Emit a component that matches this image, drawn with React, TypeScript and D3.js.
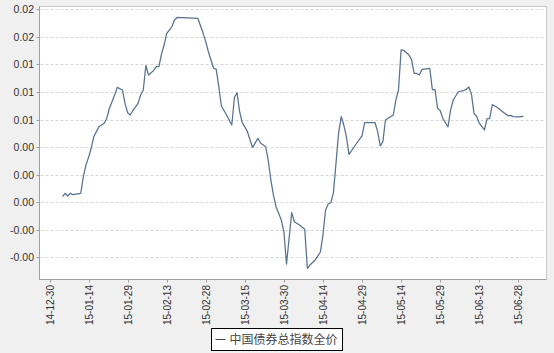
import { useEffect, useRef } from 'react';
import * as d3 from 'd3';

// 中国债券总指数全价 — readings from the chart, trading days (weekends/holidays ffilled in places)
const DATES = [
  '2015-01-04', '2015-01-05', '2015-01-06', '2015-01-07', '2015-01-08', '2015-01-09', '2015-01-11',
  '2015-01-12', '2015-01-13', '2015-01-14', '2015-01-15', '2015-01-16', '2015-01-17', '2015-01-18',
  '2015-01-20', '2015-01-21', '2015-01-22', '2015-01-23', '2015-01-24', '2015-01-25', '2015-01-27',
  '2015-01-28', '2015-01-29', '2015-01-30', '2015-01-31', '2015-02-02', '2015-02-03', '2015-02-04',
  '2015-02-05', '2015-02-06', '2015-02-08', '2015-02-09', '2015-02-10', '2015-02-11', '2015-02-12',
  '2015-02-13', '2015-02-14', '2015-02-15', '2015-02-16', '2015-02-17', '2015-02-25', '2015-02-26',
  '2015-02-27', '2015-02-28', '2015-03-01', '2015-03-02', '2015-03-03', '2015-03-04', '2015-03-05',
  '2015-03-06', '2015-03-08', '2015-03-10', '2015-03-11', '2015-03-12', '2015-03-13', '2015-03-14',
  '2015-03-16', '2015-03-17', '2015-03-18', '2015-03-20', '2015-03-21', '2015-03-23', '2015-03-24',
  '2015-03-25', '2015-03-26', '2015-03-27', '2015-03-29', '2015-03-30', '2015-03-31', '2015-04-02',
  '2015-04-03', '2015-04-05', '2015-04-07', '2015-04-08', '2015-04-09', '2015-04-11', '2015-04-13',
  '2015-04-14', '2015-04-15', '2015-04-16', '2015-04-17', '2015-04-18', '2015-04-19', '2015-04-20',
  '2015-04-21', '2015-04-22', '2015-04-23', '2015-04-24', '2015-04-26', '2015-04-28', '2015-04-29',
  '2015-04-30', '2015-05-04', '2015-05-05', '2015-05-06', '2015-05-07', '2015-05-08', '2015-05-09',
  '2015-05-11', '2015-05-12', '2015-05-13', '2015-05-14', '2015-05-15', '2015-05-17', '2015-05-18',
  '2015-05-19', '2015-05-20', '2015-05-21', '2015-05-22', '2015-05-23', '2015-05-25', '2015-05-26',
  '2015-05-27', '2015-05-28', '2015-05-29', '2015-05-30', '2015-06-01', '2015-06-02', '2015-06-03',
  '2015-06-05', '2015-06-07', '2015-06-08', '2015-06-09', '2015-06-10', '2015-06-11', '2015-06-12',
  '2015-06-13', '2015-06-15', '2015-06-16', '2015-06-17', '2015-06-18', '2015-06-20', '2015-06-22',
  '2015-06-24', '2015-06-25', '2015-06-26', '2015-06-28', '2015-06-30',
];

const VALUES = [
  0.0005, 0.00081, 0.00056, 0.00081, 0.00068, 0.00074, 0.00081,
  0.00231, 0.00337, 0.00407, 0.00489, 0.00594, 0.0064, 0.00685,
  0.00716, 0.00761, 0.00852, 0.00912, 0.00972, 0.01042, 0.01018,
  0.00897, 0.00812, 0.00791, 0.0083, 0.00897, 0.00972, 0.01018,
  0.0124, 0.01154, 0.01195, 0.01229, 0.01229, 0.01344, 0.01426,
  0.01532, 0.01562, 0.01592, 0.01653, 0.01676, 0.01667, 0.01598,
  0.01532, 0.01456, 0.01365, 0.0129, 0.01215, 0.01208, 0.01048,
  0.00873, 0.00791, 0.007, 0.0095, 0.00993, 0.00821, 0.00723,
  0.0064, 0.00564, 0.00496, 0.0058, 0.00537, 0.00503, 0.00378,
  0.00201, 0.00061, -0.00041, -0.00162, -0.00268, -0.00561, -0.00094,
  -0.00177, -0.00207, -0.00246, -0.006, -0.0057, -0.00525, -0.00452,
  -0.00298, -0.00071, -0.00016, -0.00005, 0.00083, 0.00353, 0.00625,
  0.00777, 0.007, 0.00594, 0.00433, 0.00503, 0.00571, 0.00601,
  0.00721, 0.00721, 0.0064, 0.0051, 0.00549, 0.00746, 0.00761,
  0.00791, 0.00927, 0.01018, 0.01381, 0.01378, 0.01335, 0.01296,
  0.01168, 0.01168, 0.01154, 0.01204, 0.01208, 0.01215, 0.01022,
  0.01022, 0.00852, 0.00832, 0.00761, 0.00682, 0.00836, 0.00927,
  0.01002, 0.01013, 0.01024, 0.01045, 0.00982, 0.00805, 0.0078,
  0.00718, 0.00655, 0.00759, 0.00757, 0.00886, 0.00859, 0.00821,
  0.00784, 0.00788, 0.00776, 0.00773, 0.00779,
];

const Y_TICKS = [0.0175, 0.015, 0.0125, 0.01, 0.0075, 0.005, 0.0025, 0, -0.0025, -0.005];
const Y_TICK_LABELS = ['0.02', '0.02', '0.01', '0.01', '0.01', '0.00', '0.00', '0.00', '-0.00', '-0.00'];

const X_TICKS = [
  '2014-12-30', '2015-01-14', '2015-01-29', '2015-02-13', '2015-02-28', '2015-03-15', '2015-03-30',
  '2015-04-14', '2015-04-29', '2015-05-14', '2015-05-29', '2015-06-13', '2015-06-28',
];

const SERIES_NAME = '中国债券总指数全价';

const W = 554;
const H = 353;
const FRAME = { left: 39.5, top: 6.5, right: 546.5, bottom: 279.5 };
const LINE_COLOR = '#58718f';
const FONT = '"Liberation Sans", Arial, sans-serif';

export default function App() {
  const svgRef = useRef<SVGSVGElement>(null);

  useEffect(() => {
    const svg = d3.select(svgRef.current);
    if (!svg.node()) return;
    svg.selectAll('*').remove();

    const parse = d3.utcParse('%Y-%m-%d');
    const fmt = d3.utcFormat('%y-%m-%d');
    const points = DATES.map((d, i) => ({ date: parse(d)!, value: VALUES[i] }));

    const x = d3
      .scaleUtc()
      .domain([parse(X_TICKS[0])!, parse(X_TICKS[X_TICKS.length - 1])!])
      .range([49.5, 518.3]);
    const y = d3.scaleLinear().domain([-0.005, 0.0175]).range([257.3, 9.3]);

    svg.append('rect').attr('width', W).attr('height', H).attr('fill', '#f0f0f0');

    svg
      .append('rect')
      .attr('x', FRAME.left)
      .attr('y', FRAME.top)
      .attr('width', FRAME.right - FRAME.left)
      .attr('height', FRAME.bottom - FRAME.top)
      .attr('fill', '#ffffff')
      .attr('stroke', '#c8c8c8')
      .attr('stroke-width', 1);

    // gridlines
    svg
      .append('g')
      .selectAll('line')
      .data(Y_TICKS)
      .join('line')
      .attr('x1', FRAME.left + 1)
      .attr('x2', FRAME.right - 1)
      .attr('y1', (d) => Math.round(y(d)) + 0.5)
      .attr('y2', (d) => Math.round(y(d)) + 0.5)
      .attr('stroke', '#d6d6d6')
      .attr('stroke-dasharray', '3 2');

    // y axis
    const yAxis = svg.append('g');
    yAxis
      .append('line')
      .attr('x1', FRAME.left)
      .attr('x2', FRAME.left)
      .attr('y1', FRAME.top)
      .attr('y2', FRAME.bottom)
      .attr('stroke', '#a0a0a0');
    Y_TICKS.forEach((t, i) => {
      const yy = Math.round(y(t)) + 0.5;
      yAxis
        .append('line')
        .attr('x1', FRAME.left - 3)
        .attr('x2', FRAME.left)
        .attr('y1', yy)
        .attr('y2', yy)
        .attr('stroke', '#a0a0a0');
      yAxis
        .append('text')
        .attr('x', 34)
        .attr('y', yy)
        .attr('dy', '0.35em')
        .attr('text-anchor', 'end')
        .attr('font-family', FONT)
        .attr('font-size', 10.5)
        .attr('fill', '#333')
        .text(Y_TICK_LABELS[i]);
    });

    // x axis
    const xAxis = svg.append('g');
    xAxis
      .append('line')
      .attr('x1', FRAME.left)
      .attr('x2', FRAME.right)
      .attr('y1', FRAME.bottom)
      .attr('y2', FRAME.bottom)
      .attr('stroke', '#a0a0a0');
    X_TICKS.forEach((t) => {
      const xx = Math.round(x(parse(t)!)) + 0.5;
      xAxis
        .append('line')
        .attr('x1', xx)
        .attr('x2', xx)
        .attr('y1', FRAME.bottom)
        .attr('y2', FRAME.bottom + 3)
        .attr('stroke', '#a0a0a0');
      xAxis
        .append('text')
        .attr('transform', `translate(${xx},285) rotate(-90)`)
        .attr('dy', '0.35em')
        .attr('text-anchor', 'end')
        .attr('font-family', FONT)
        .attr('font-size', 10)
        .attr('fill', '#333')
        .text(fmt(parse(t)!));
    });

    const line = d3
      .line<{ date: Date; value: number }>()
      .x((d) => x(d.date))
      .y((d) => y(d.value));

    svg
      .append('path')
      .datum(points)
      .attr('fill', 'none')
      .attr('stroke', LINE_COLOR)
      .attr('stroke-width', 1.25)
      .attr('stroke-linejoin', 'round')
      .attr('d', line);

    // legend
    const lg = svg.append('g').attr('transform', 'translate(211.5,328.5)');
    lg.append('rect')
      .attr('width', 131)
      .attr('height', 22)
      .attr('fill', '#ffffff')
      .attr('stroke', '#000')
      .attr('stroke-width', 1);
    lg.append('line')
      .attr('x1', 4)
      .attr('x2', 14)
      .attr('y1', 11)
      .attr('y2', 11)
      .attr('stroke', '#444')
      .attr('stroke-width', 1);
    lg.append('text')
      .attr('x', 18)
      .attr('y', 11)
      .attr('dy', '0.36em')
      .attr('font-family', '"Noto Sans CJK SC", sans-serif')
      .attr('font-size', 12)
      .attr('fill', '#444')
      .text(SERIES_NAME);
  }, []);

  return (
    <svg
      ref={svgRef}
      width={W}
      height={H}
      style={{ position: 'fixed', left: 0, top: 0, display: 'block' }}
    />
  );
}
